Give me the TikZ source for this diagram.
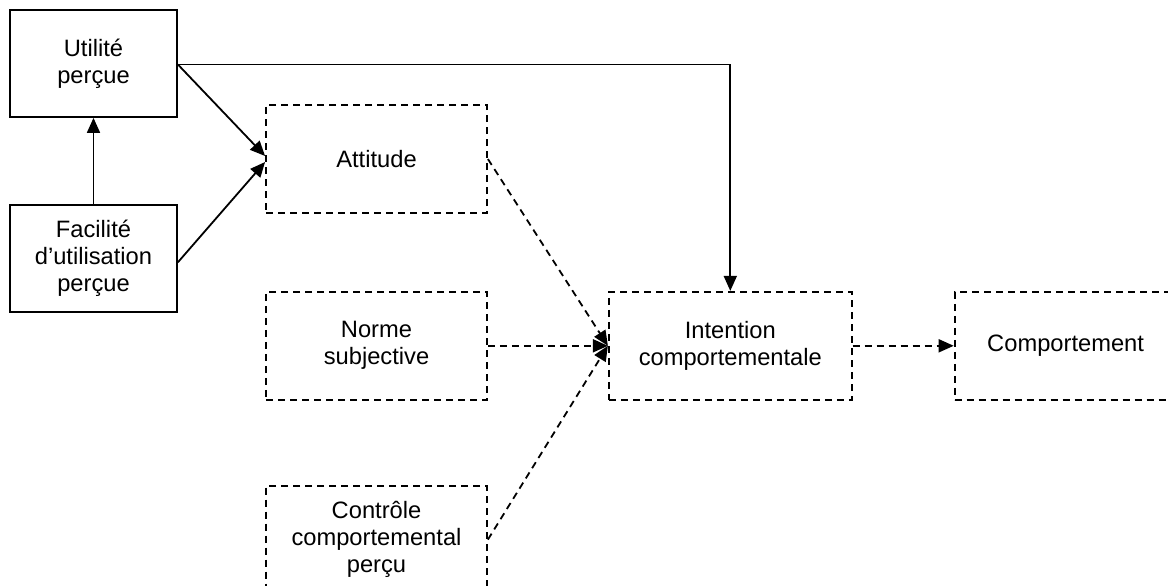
\documentclass[tikz,border=0pt]{standalone}
\usepackage{fontspec}
\setmainfont{Liberation Sans}
\usetikzlibrary{positioning}
\usetikzlibrary{arrows.meta}

\tikzset{
  solidbox/.style={draw, line width=1.8pt, minimum width=167pt, minimum height=107pt, align=center, inner sep=0pt},
  dashbox/.style={draw, line width=1.8pt, dash pattern=on 7pt off 5pt, minimum width=221pt, minimum height=108pt, align=center, inner sep=0pt},
  link/.style={line width=1.8pt, -{Triangle[length=15pt,width=13pt]}},
  dashlink/.style={link, dash pattern=on 7pt off 5pt}
}

\begin{document}
\begin{tikzpicture}[x=1pt, y=1pt, font=\fontsize{23.7}{27}\selectfont]
\useasboundingbox (0,0) rectangle (1168,-586);
% Define nodes
\node[solidbox] at (93.5,-63.5) (util) {Utilité\\perçue};
\node[solidbox, below=86pt of util] (facil) {Facilité\\d’utilisation\\perçue};
\node[dashbox] at (376.5,-159) (attitude) {Attitude};
\node[dashbox, below=77pt of attitude] (norme) {Norme\\subjective};
\node[dashbox, below=84pt of norme] (controle) {Contrôle\\comportemental\\perçu};
\node[dashbox, minimum width=243pt, right=120pt of norme] (intention) {Intention\\comportementale};
\node[dashbox, minimum width=222pt, right=101pt of intention] (comport) {Comportement};
\coordinate (utilout) at ([yshift=-1pt]util.east);

% Edges
\draw[link] (facil) -- (util);
\draw[link] (utilout) -- ([yshift=3pt]attitude.west);
\draw[link] ([yshift=-4pt]facil.east) -- ([yshift=-3pt]attitude.west);
\draw[link] (utilout) -- (intention.north |- utilout) -- (intention.north);
\draw[dashlink] (attitude.east) -- (intention.west);
\draw[dashlink] (norme.east) -- (intention.west);
\draw[dashlink] (controle.east) -- (intention.west);
\draw[dashlink] (intention.east) -- (comport.west);
\end{tikzpicture}
\end{document}
